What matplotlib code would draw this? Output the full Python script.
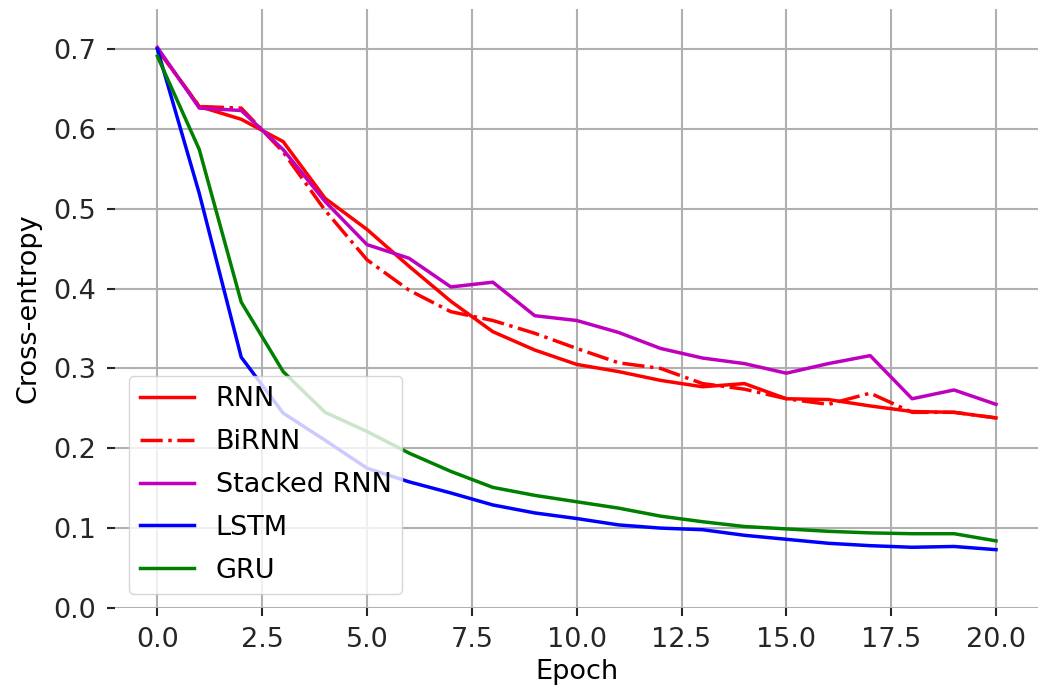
import matplotlib
matplotlib.use("Agg")
import matplotlib.pyplot as plt

epochs = list(range(21))

rnn = [0.700, 0.628, 0.612, 0.584, 0.513, 0.474, 0.428, 0.384, 0.346, 0.323, 0.305,
       0.296, 0.285, 0.277, 0.281, 0.262, 0.261, 0.253, 0.246, 0.245, 0.238]
birnn = [0.700, 0.628, 0.626, 0.571, 0.498, 0.436, 0.398, 0.371, 0.360, 0.344, 0.325,
         0.307, 0.300, 0.281, 0.274, 0.262, 0.255, 0.269, 0.245, 0.245, 0.238]
stacked = [0.702, 0.626, 0.623, 0.574, 0.509, 0.455, 0.438, 0.402, 0.408, 0.366, 0.360,
           0.345, 0.325, 0.313, 0.306, 0.294, 0.306, 0.316, 0.262, 0.273, 0.255]
lstm = [0.700, 0.519, 0.314, 0.244, 0.210, 0.175, 0.158, 0.144, 0.129, 0.119, 0.112,
        0.104, 0.100, 0.098, 0.091, 0.086, 0.081, 0.078, 0.076, 0.077, 0.073]
gru = [0.691, 0.574, 0.383, 0.296, 0.245, 0.221, 0.194, 0.171, 0.151, 0.141, 0.133,
       0.125, 0.115, 0.108, 0.102, 0.099, 0.096, 0.094, 0.093, 0.093, 0.084]

plt.rcParams['font.family'] = 'DejaVu Sans'
fs = 19.5

fig, ax = plt.subplots(figsize=(10.4, 6.98), dpi=100)

lw = 2.5
ax.plot(epochs, rnn, color='r', lw=lw, label='RNN')
ax.plot(epochs, birnn, color='r', lw=lw, ls='-.', label='BiRNN')
ax.plot(epochs, stacked, color='m', lw=lw, label='Stacked RNN')
ax.plot(epochs, lstm, color='b', lw=lw, label='LSTM')
ax.plot(epochs, gru, color='g', lw=lw, label='GRU')

ax.set_ylim(0, 0.75)
ax.set_xlabel('Epoch', fontsize=fs, labelpad=4)
ax.set_ylabel('Cross-entropy', fontsize=fs, labelpad=8)

for s in ax.spines.values():
    s.set_visible(False)
ax.grid(True, color='#b0b0b0', lw=1.5)
ax.set_axisbelow(True)
ax.tick_params(axis='both', labelsize=fs, length=6, width=1.5, color='#262626',
               labelcolor='#262626', pad=8)

ax.legend(loc='lower left', fontsize=fs, framealpha=0.8, handlelength=2.0,
          labelspacing=0.62)

plt.subplots_adjust(left=0.111, right=0.998, top=0.987, bottom=0.129)
plt.savefig('out.png', dpi=100)
